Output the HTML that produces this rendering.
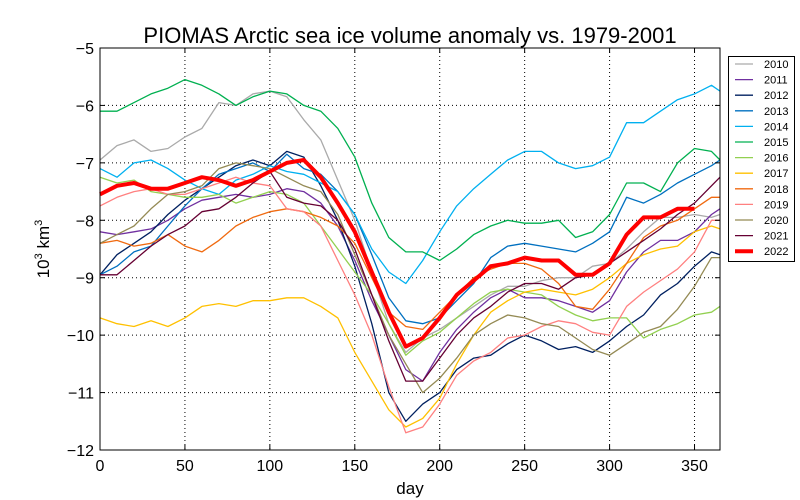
<!DOCTYPE html>
<html><head><meta charset="utf-8"><style>
body{margin:0;background:#fff;font-family:"Liberation Sans",sans-serif}
svg{display:block}
</style></head><body>
<svg id="chart" width="800" height="500" font-family="Liberation Sans, sans-serif">
<rect width="800" height="500" fill="#fff"/>
<text x="410" y="43" font-size="22" text-anchor="middle">PIOMAS Arctic sea ice volume anomaly vs. 1979-2001</text>
<text x="410" y="494" font-size="17" text-anchor="middle">day</text>
<text transform="translate(49,249) rotate(-90)" font-size="17" text-anchor="middle">10<tspan dy="-7" font-size="11">3</tspan><tspan dy="7"> km</tspan><tspan dy="-7" font-size="11">3</tspan></text>
<g id="grid"></g><g id="series"></g><g id="axes"></g><g id="legend"></g>
</svg>
<script>
const days=[0,10,20,30,40,50,60,70,80,90,100,110,120,130,140,150,160,170,180,190,200,210,220,230,240,250,260,270,280,290,300,310,320,330,340,350,360,365];
const xTicks=[0,50,100,150,200,250,300,350];
const yTicks=[-5,-6,-7,-8,-9,-10,-11,-12];
const years=["2010","2011","2012","2013","2014","2015","2016","2017","2018","2019","2020","2021","2022"];
const colors=["#aaaaaa","#7030a0","#002060","#0070c0","#00b0f0","#00b050","#92d050","#ffc000","#f06a10","#ff8080","#948a54","#660033","#ff0000"];
const v2010=[-6.95,-6.7,-6.6,-6.8,-6.75,-6.55,-6.4,-5.95,-6.0,-5.8,-5.75,-5.85,-6.25,-6.6,-7.3,-8.0,-8.9,-9.8,-10.3,-10.05,-9.9,-9.7,-9.5,-9.3,-9.15,-9.15,-9.05,-9.0,-9.0,-8.8,-8.75,-8.5,-8.2,-7.95,-7.95,-7.9,-7.95,-7.9];
const v2011=[-8.2,-8.25,-8.2,-8.15,-8.0,-7.8,-7.65,-7.6,-7.55,-7.6,-7.55,-7.45,-7.5,-7.7,-8.1,-8.7,-9.4,-10.0,-10.6,-10.8,-10.3,-9.9,-9.6,-9.35,-9.2,-9.35,-9.35,-9.4,-9.5,-9.6,-9.4,-8.9,-8.55,-8.35,-8.35,-8.2,-7.9,-7.8];
const v2012=[-8.95,-8.6,-8.4,-8.2,-7.9,-7.65,-7.45,-7.25,-7.05,-6.95,-7.05,-6.8,-6.9,-7.4,-8.0,-8.8,-9.8,-11.0,-11.5,-11.2,-11.0,-10.6,-10.4,-10.35,-10.15,-10.0,-10.1,-10.25,-10.2,-10.3,-10.1,-9.85,-9.65,-9.3,-9.1,-8.8,-8.55,-8.6];
const v2013=[-8.95,-8.8,-8.55,-8.45,-8.1,-7.75,-7.45,-7.2,-7.1,-7.0,-7.15,-6.85,-7.1,-7.2,-7.5,-7.9,-8.6,-9.35,-9.75,-9.8,-9.7,-9.4,-9.1,-8.65,-8.45,-8.4,-8.45,-8.5,-8.55,-8.4,-8.2,-7.6,-7.7,-7.55,-7.35,-7.2,-7.05,-6.95];
const v2014=[-7.1,-7.25,-7.0,-6.95,-7.1,-7.3,-7.45,-7.55,-7.3,-7.2,-7.05,-7.15,-7.2,-7.35,-7.5,-7.9,-8.5,-8.9,-9.1,-8.7,-8.2,-7.75,-7.45,-7.2,-6.95,-6.8,-6.8,-7.0,-7.1,-7.05,-6.9,-6.3,-6.3,-6.1,-5.9,-5.8,-5.65,-5.75];
const v2015=[-6.1,-6.1,-5.95,-5.8,-5.7,-5.55,-5.65,-5.8,-6.0,-5.85,-5.75,-5.8,-6.0,-6.1,-6.4,-6.9,-7.7,-8.3,-8.55,-8.55,-8.7,-8.5,-8.25,-8.1,-8.0,-8.05,-8.05,-8.0,-8.3,-8.2,-7.9,-7.35,-7.35,-7.5,-7.0,-6.75,-6.8,-6.95];
const v2016=[-7.25,-7.35,-7.3,-7.5,-7.55,-7.6,-7.6,-7.55,-7.7,-7.6,-7.5,-7.55,-7.7,-8.1,-8.5,-8.9,-9.3,-9.8,-10.35,-10.1,-9.95,-9.7,-9.45,-9.25,-9.2,-9.25,-9.3,-9.5,-9.65,-9.75,-9.7,-9.7,-10.05,-9.9,-9.8,-9.65,-9.6,-9.5];
const v2017=[-9.7,-9.8,-9.85,-9.75,-9.85,-9.7,-9.5,-9.45,-9.5,-9.4,-9.4,-9.35,-9.35,-9.5,-9.7,-10.3,-10.8,-11.3,-11.6,-11.45,-11.1,-10.5,-10.0,-9.6,-9.4,-9.25,-9.2,-9.25,-9.3,-9.2,-9.0,-8.75,-8.6,-8.5,-8.45,-8.2,-8.1,-8.15];
const v2018=[-8.4,-8.35,-8.45,-8.4,-8.25,-8.45,-8.55,-8.35,-8.1,-7.95,-7.85,-7.8,-7.85,-7.95,-8.1,-8.4,-9.0,-9.6,-9.85,-9.9,-9.6,-9.3,-9.0,-8.85,-8.75,-8.75,-8.85,-9.1,-9.5,-9.55,-9.2,-8.75,-8.3,-8.1,-8.0,-7.8,-7.6,-7.6];
const v2019=[-7.75,-7.6,-7.5,-7.45,-7.55,-7.55,-7.45,-7.35,-7.25,-7.35,-7.4,-7.8,-7.85,-8.1,-8.7,-9.3,-10.0,-10.9,-11.7,-11.6,-11.2,-10.7,-10.45,-10.3,-10.05,-10.0,-9.85,-9.75,-9.8,-9.95,-10.0,-9.5,-9.25,-9.05,-8.85,-8.55,-8.0,-8.0];
const v2020=[-8.4,-8.25,-8.1,-7.8,-7.55,-7.5,-7.4,-7.1,-7.0,-7.05,-7.1,-7.25,-7.4,-7.5,-7.9,-8.6,-9.3,-10.0,-10.5,-11.0,-10.75,-10.4,-10.0,-9.8,-9.65,-9.7,-9.8,-9.85,-10.05,-10.25,-10.35,-10.15,-9.95,-9.85,-9.55,-9.15,-8.65,-8.65];
const v2021=[-8.95,-8.95,-8.7,-8.45,-8.25,-8.1,-7.85,-7.8,-7.6,-7.35,-7.15,-7.6,-7.7,-7.75,-8.0,-8.5,-9.3,-10.1,-10.8,-10.8,-10.4,-10.0,-9.7,-9.5,-9.25,-9.1,-9.1,-9.2,-9.0,-8.95,-8.75,-8.55,-8.35,-8.15,-7.9,-7.7,-7.4,-7.25];
const v2022=[-7.55,-7.4,-7.35,-7.45,-7.45,-7.35,-7.25,-7.3,-7.4,-7.3,-7.15,-7.0,-6.95,-7.25,-7.7,-8.2,-8.9,-9.6,-10.2,-10.05,-9.7,-9.3,-9.05,-8.8,-8.75,-8.65,-8.7,-8.7,-8.95,-8.95,-8.75,-8.25,-7.95,-7.95,-7.8,-7.8,null,null];
const seriesVals=[v2010,v2011,v2012,v2013,v2014,v2015,v2016,v2017,v2018,v2019,v2020,v2021,v2022];

const NS="http://www.w3.org/2000/svg";
const L=100,R=720,T=48,B=450;
function sx(d){return L+(d-0)/(365-0)*(R-L);}
function sy(v){return T+(-5-v)/7*(B-T);}
function mk(tag,attrs,parent){const e=document.createElementNS(NS,tag);for(const k in attrs)e.setAttribute(k,attrs[k]);parent.appendChild(e);return e;}
const grid=document.getElementById('grid'),axes=document.getElementById('axes'),ser=document.getElementById('series'),leg=document.getElementById('legend');
xTicks.forEach(t=>{
  const x=sx(t);
  if(t>0){const g=mk('line',{x1:x,x2:x,y1:T,y2:B,stroke:'#000','stroke-dasharray':'1,3','stroke-width':1},grid);
  
  }
  mk('line',{x1:x,x2:x,y1:B,y2:B-5,stroke:'#000'},axes);
  mk('line',{x1:x,x2:x,y1:T,y2:T+5,stroke:'#000'},axes);
  const tx=mk('text',{x:x,y:B+21,'font-size':16,'text-anchor':'middle'},axes);
  tx.textContent=t;
  
  
});
yTicks.forEach(t=>{
  const y=sy(t);
  if(t<-5&&t>-12){const g=mk('line',{x1:L,x2:R,y1:y,y2:y,stroke:'#000','stroke-dasharray':'1,3','stroke-width':1},grid);
  
  }
  mk('line',{x1:L,x2:L+5,y1:y,y2:y,stroke:'#000'},axes);
  mk('line',{x1:R,x2:R-5,y1:y,y2:y,stroke:'#000'},axes);
  const tx=mk('text',{x:L-6,y:y+6,'font-size':16,'text-anchor':'end'},axes);
  tx.textContent=(t<0?'\u2212':'')+Math.abs(t);
  
  
});
const frame=mk('rect',{x:L,y:T,width:R-L,height:B-T,fill:'none',stroke:'#000','stroke-width':1},axes);


seriesVals.forEach((vals,i)=>{
  let d='';let pen=false;
  vals.forEach((v,j)=>{if(v===null){pen=false;return;}d+=(pen?'L':'M')+sx(days[j]).toFixed(1)+','+sy(v).toFixed(1);pen=true;});
  const p=mk('path',{d:d,fill:'none',stroke:colors[i],'stroke-width':i===12?4:1.3,'stroke-linejoin':'round'},ser);
  
  
});
const lb=mk('rect',{x:728.5,y:56.5,width:66,height:205,fill:'#fff',stroke:'#000'},leg);


years.forEach((y,i)=>{
  const yy=64+i*15.6;
  const g=mk('g',{},leg);
  
  
  mk('line',{x1:735,x2:753,y1:yy,y2:yy,stroke:colors[i],'stroke-width':i===12?4:1.3},g);
  const t=mk('text',{x:764,y:yy+4,'font-size':11},g);
  t.textContent=y;
});
</script>
</body></html>
